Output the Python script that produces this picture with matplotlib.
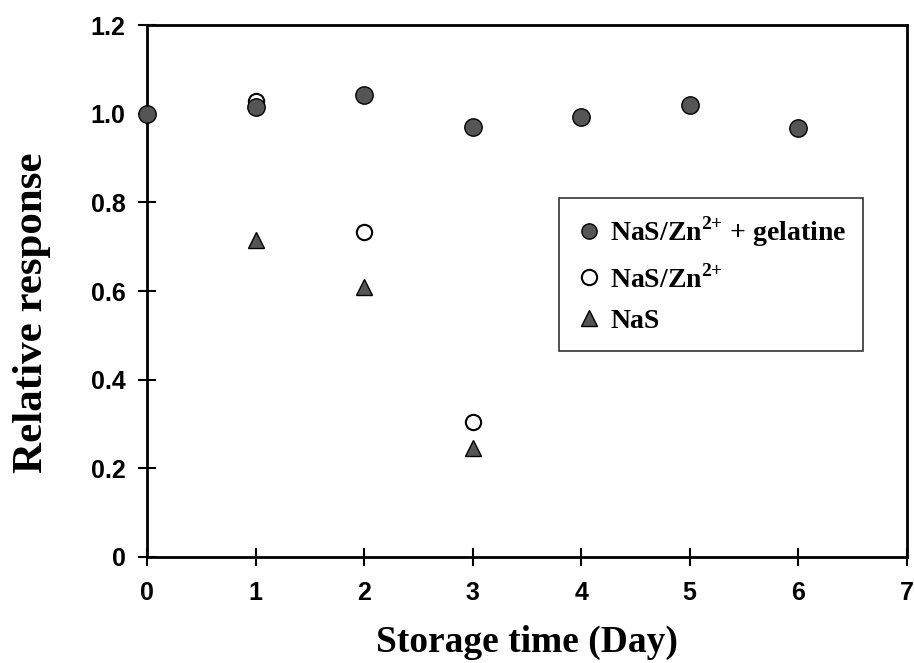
import matplotlib.pyplot as plt

plt.rcParams['mathtext.fontset'] = 'custom'
plt.rcParams['mathtext.bf'] = 'Liberation Serif:bold'
plt.rcParams['mathtext.rm'] = 'Liberation Serif:bold'

days_gel = [0, 1, 2, 3, 4, 5, 6]
resp_gel = [1.0, 1.016, 1.043, 0.971, 0.993, 1.02, 0.968]

days_zn = [1, 2, 3]
resp_zn = [1.03, 0.734, 0.305]

days_nas = [1, 2, 3]
resp_nas = [0.716, 0.61, 0.246]

xticks = [0, 1, 2, 3, 4, 5, 6, 7]
yticks = [0, 0.2, 0.4, 0.6, 0.8, 1.0, 1.2]
ylabels = ["0", "0.2", "0.4", "0.6", "0.8", "1.0", "1.2"]

fig = plt.figure(figsize=(9.14, 6.63), dpi=100)
ax = fig.add_axes([0.161, 0.160, 0.831, 0.802])

ax.plot(days_nas, resp_nas, linestyle='none', marker='^', markersize=11,
        markerfacecolor='#555555', markeredgecolor='black', markeredgewidth=1,
        label="NaS", zorder=3, clip_on=False)
ax.plot(days_zn, resp_zn, linestyle='none', marker='o', markersize=11,
        markerfacecolor='white', markeredgecolor='black', markeredgewidth=1.5,
        label="NaS/Zn$^{\\mathbf{2{+}}}$", zorder=3, clip_on=False)
ax.plot(days_gel, resp_gel, linestyle='none', marker='o', markersize=12.5,
        markerfacecolor='#555555', markeredgecolor='black', markeredgewidth=1,
        label="NaS/Zn$^{\\mathbf{2{+}}}$ + gelatine", zorder=4, clip_on=False)

ax.set_xlim(0, 7)
ax.set_ylim(0, 1.2)
ax.set_xticks(xticks)
ax.set_yticks(yticks)
ax.set_yticklabels(ylabels)
ax.tick_params(direction='inout', length=13, width=1.5, labelsize=18)
ax.tick_params(axis='x', pad=11)
ax.tick_params(axis='y', pad=9)
for lab in ax.get_xticklabels() + ax.get_yticklabels():
    lab.set_fontweight('bold')
    lab.set_family('Liberation Sans')
for s in ax.spines.values():
    s.set_linewidth(2)

ax.set_xlabel("Storage time (Day)", family='Liberation Serif', fontweight='bold',
              fontsize=27)
ax.set_ylabel("Relative response", family='Liberation Serif', fontweight='bold',
              fontsize=31)
ax.xaxis.set_label_coords(0.5, -0.128)
ax.yaxis.set_label_coords(-0.126, 0.46)

handles, labels = ax.get_legend_handles_labels()
leg = ax.legend(handles[::-1], labels[::-1], loc='upper left',
                bbox_to_anchor=(0.542, 0.675), borderaxespad=0, frameon=True,
                fancybox=False, edgecolor='black', handletextpad=0.25,
                handlelength=1.0, labelspacing=0.55, borderpad=0.6,
                prop={'family': 'Liberation Serif', 'weight': 'bold', 'size': 20})
leg.get_frame().set_linewidth(1.2)
for h in leg.legend_handles:
    h.set_markersize(11)

fig.savefig("out.png", dpi=100)
